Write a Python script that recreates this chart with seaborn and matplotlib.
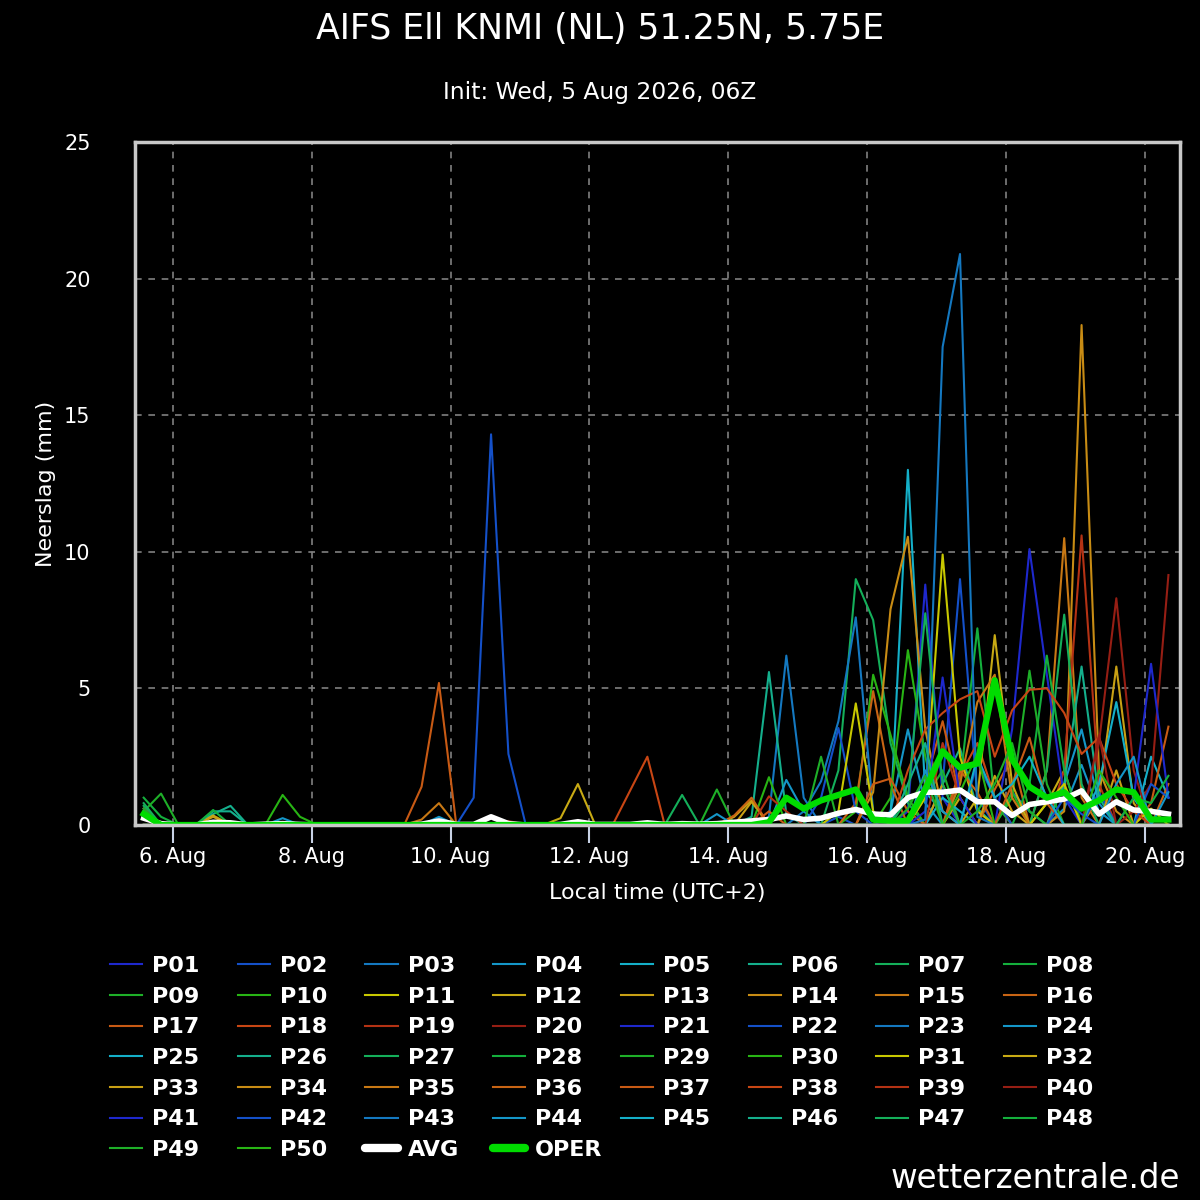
import matplotlib
matplotlib.use("Agg")
import matplotlib.pyplot as plt
import matplotlib.dates as mdates
from matplotlib.lines import Line2D
from matplotlib.ticker import FuncFormatter
import numpy as np
import pandas as pd
import seaborn as sns

# 6-hourly steps, first value valid 5 Aug 14:00 local, 60 steps
start = "2026-08-05 14:00"
n_steps = 60

# ensemble members: {step index: mm}, zero at all other steps
p01 = {0: 0.6, 44: 0.5, 45: 8.8, 46: 1.0}
p02 = {0: 0.5, 40: 0.3, 46: 1.5, 47: 9.0, 48: 1.0}
p03 = {0: 0.4, 36: 0.3, 37: 6.2, 38: 1.0, 50: 1.2, 51: 0.5}
p04 = {0: 0.3, 43: 0.5, 44: 3.5, 45: 0.8, 53: 0.6, 54: 2.2, 55: 0.5}
p05 = {43: 0.3, 44: 13.0, 45: 1.2, 46: 0.5, 58: 2.5, 59: 1.0}
p06 = {4: 0.4, 5: 0.7, 35: 0.3, 36: 5.6, 37: 0.4, 46: 1.5, 47: 2.8, 48: 0.6}
p07 = {31: 1.1, 40: 2.0, 41: 9.0, 42: 7.5, 43: 3.0, 44: 0.8}
p08 = {0: 1.0, 1: 0.3, 47: 1.5, 48: 7.2, 49: 0.8}
p09 = {0: 0.5, 1: 1.15, 33: 1.3, 45: 1.0, 46: 2.0, 50: 1.2}
p10 = {8: 1.1, 9: 0.3, 41: 0.5, 42: 5.5, 43: 3.3, 44: 1.0}
p11 = {45: 1.0, 46: 9.9, 47: 2.5, 48: 0.5}
p12 = {4: 0.35, 24: 0.25, 25: 1.5, 47: 1.0, 52: 0.8, 53: 2.0}
p13 = {35: 0.85, 46: 1.5, 55: 1.0, 56: 5.8, 57: 0.8}
p14 = {53: 0.5, 54: 18.3, 55: 2.0, 56: 0.5}
p15 = {52: 2.0, 53: 10.5, 54: 1.0}
p16 = {41: 0.8, 42: 4.9, 43: 1.5, 49: 1.3, 50: 2.5}
p17 = {16: 1.4, 17: 5.2, 45: 1.5, 46: 3.8, 47: 1.0, 58: 0.8, 59: 3.6}
p18 = {28: 1.25, 29: 2.5, 47: 1.8, 48: 3.0, 49: 1.0}
p19 = {53: 2.0, 54: 10.6, 55: 1.5}
p20 = {21: 0.15, 55: 3.0, 56: 8.3, 57: 2.0}
p21 = {50: 3.5, 51: 10.1, 52: 5.5, 53: 1.0}
p22 = {0: 0.3, 39: 1.0, 40: 3.55, 41: 0.5, 48: 2.3, 49: 1.0, 55: 1.2}
p23 = {38: 0.5, 39: 1.6, 40: 3.8, 41: 7.6, 42: 0.5}
p24 = {37: 1.65, 38: 0.5, 53: 1.5, 54: 3.5, 55: 0.8}
p25 = {0: 0.4, 46: 1.0, 47: 0.5, 55: 1.5, 56: 4.5, 57: 1.0}
p26 = {53: 1.5, 54: 5.8, 55: 1.0}
p27 = {0: 0.7, 52: 2.0, 53: 7.7, 54: 1.5}
p28 = {51: 1.5, 52: 6.2, 53: 2.0}
p29 = {39: 2.5, 50: 1.0, 51: 5.65, 52: 1.5}
p30 = {36: 1.75, 43: 1.0, 44: 6.4, 45: 2.5}
p31 = {40: 0.5, 41: 4.45, 42: 0.5, 52: 0.8, 53: 1.5, 58: 0.6}
p32 = {48: 1.0, 49: 6.95, 50: 1.5}
p33 = {0: 0.5, 4: 0.3, 34: 0.3, 35: 0.9, 49: 1.8, 50: 0.5, 56: 2.0}
p34 = {42: 1.2, 43: 7.9, 44: 10.55, 45: 3.5, 46: 0.5}
p35 = {16: 0.2, 17: 0.8, 47: 1.5, 48: 4.5, 49: 5.5, 50: 1.0}
p36 = {34: 0.35, 35: 1.0, 47: 2.0, 48: 1.2, 59: 1.5}
p37 = {36: 0.5, 42: 1.5, 43: 1.7, 44: 0.5, 50: 1.5, 51: 3.2, 52: 0.8}
p38 = {44: 2.0, 45: 3.5, 46: 4.1, 47: 4.6, 48: 4.9, 49: 2.5, 50: 4.2,
       51: 4.95, 52: 5.0, 53: 4.1, 54: 2.6, 55: 3.2, 56: 1.5, 57: 0.5}
p39 = {0: 0.6, 36: 1.05, 37: 0.5, 46: 3.0, 47: 1.0}
p40 = {55: 3.3, 57: 0.5, 58: 1.5, 59: 9.15}
p41 = {45: 0.5, 46: 5.4, 47: 1.0, 57: 1.0, 58: 5.9, 59: 1.0}
p42 = {19: 1.0, 20: 14.3, 21: 2.6, 53: 1.0, 54: 0.4, 58: 1.5, 59: 1.0}
p43 = {45: 0.2, 46: 17.5, 47: 20.9, 48: 0.3}
p44 = {8: 0.25, 17: 0.3, 33: 0.4, 45: 2.0, 46: 0.5, 56: 1.5, 57: 2.5, 59: 1.2}
p45 = {48: 2.5, 49: 1.0, 50: 1.5, 51: 2.5, 52: 1.0}
p46 = {0: 0.5, 4: 0.5, 5: 0.5, 44: 1.5, 45: 3.0}
p47 = {0: 0.8, 44: 1.0, 45: 7.75, 46: 1.5}
p48 = {4: 0.55, 57: 1.0, 58: 0.8, 59: 1.8}
p49 = {0: 0.6, 44: 0.6, 45: 1.8, 48: 0.5, 49: 1.5, 50: 3.0, 51: 0.5}
p50 = {0: 0.3, 47: 1.2, 48: 2.6, 55: 2.0, 56: 1.0}

avg = [0.25, 0.05, 0, 0, 0.1, 0.08, 0, 0.03, 0.05, 0.02,
       0, 0, 0, 0, 0, 0, 0.03, 0.15, 0.02, 0.02,
       0.3, 0.05, 0, 0, 0.02, 0.12, 0.02, 0.02, 0.02, 0.08,
       0.02, 0.05, 0.03, 0.05, 0.1, 0.15, 0.2, 0.33, 0.2, 0.25,
       0.43, 0.57, 0.4, 0.37, 1.0, 1.2, 1.2, 1.28, 0.85, 0.85,
       0.35, 0.75, 0.85, 0.95, 1.25, 0.4, 0.85, 0.55, 0.5, 0.4]
oper = [0.4, 0, 0, 0, 0, 0, 0, 0, 0, 0,
        0, 0, 0, 0, 0, 0, 0, 0, 0, 0,
        0, 0, 0, 0, 0, 0, 0, 0, 0, 0,
        0, 0, 0, 0, 0, 0, 0.1, 1.0, 0.6, 0.9,
        1.1, 1.3, 0.2, 0.15, 0.15, 1.3, 2.7, 2.1, 2.25, 5.3,
        2.4, 1.4, 1.0, 1.2, 0.6, 0.9, 1.3, 1.2, 0.2, 0.2]

colors20 = ["#1e28cd", "#1450c8", "#1478c0", "#1496c8", "#14afc8",
            "#14af8c", "#14af5a", "#14af3c", "#1eaf28", "#28b414",
            "#c8c800", "#c8aa14", "#c8a014", "#c88c14", "#c87814",
            "#c86414", "#c85a14", "#c84614", "#b43214", "#961e14"]

members = [p01, p02, p03, p04, p05, p06, p07, p08, p09, p10,
           p11, p12, p13, p14, p15, p16, p17, p18, p19, p20,
           p21, p22, p23, p24, p25, p26, p27, p28, p29, p30,
           p31, p32, p33, p34, p35, p36, p37, p38, p39, p40,
           p41, p42, p43, p44, p45, p46, p47, p48, p49, p50]
names = [f"P{k:02d}" for k in range(1, 51)]

times = pd.date_range(start, periods=n_steps, freq="6h")
rows = []
for name, m in zip(names, members):
    for i, t in enumerate(times):
        rows.append((name, t, m.get(i, 0.0)))
df = pd.DataFrame(rows, columns=["member", "time", "mm"])
palette = {name: colors20[k % 20] for k, name in enumerate(names)}

plt.rcParams["font.family"] = ["DejaVu Sans"]

fig = plt.figure(figsize=(12, 12), dpi=100, facecolor="black")
ax = fig.add_axes([135 / 1200, 1 - 825 / 1200, 1045 / 1200, 683 / 1200])
ax.set_facecolor("black")

sns.lineplot(data=df, x="time", y="mm", hue="member", palette=palette,
             linewidth=1.5, legend=False, ax=ax)
sns.lineplot(x=times, y=avg, color="white", linewidth=4, ax=ax)
sns.lineplot(x=times, y=oper, color="#00dc00", linewidth=4.5, ax=ax)

ax.set_ylim(0, 25)
ax.set_xlim(pd.Timestamp("2026-08-05 11:00"), pd.Timestamp("2026-08-20 12:00"))
ax.set_yticks([0, 5, 10, 15, 20, 25])
ax.xaxis.set_major_locator(mdates.DayLocator(bymonthday=[6, 8, 10, 12, 14, 16, 18, 20]))
ax.xaxis.set_major_formatter(FuncFormatter(
    lambda v, p: f"{mdates.num2date(v).day}. {mdates.num2date(v):%b}"))
ax.grid(True, color="#808080", linestyle=(0, (4, 4)), linewidth=1.2)
for s in ax.spines.values():
    s.set_color("#c8c8c8")
    s.set_linewidth(2.5)
ax.tick_params(axis="y", length=0, pad=32, labelcolor="white", labelsize=15)
ax.tick_params(axis="x", length=13, width=1.5, color="#c8d2e6", pad=3,
               labelcolor="white", labelsize=15)

ax.set_ylabel("Neerslag (mm)", color="white", fontsize=16, va="center")
ax.set_xlabel("Local time (UTC+2)", color="white", fontsize=16, va="center")
ax.yaxis.set_label_coords(-0.085, 0.5)
ax.xaxis.set_label_coords(0.5, -0.1)

fig.text(0.5, 1 - 29 / 1200, "AIFS Ell KNMI (NL) 51.25N, 5.75E", color="white",
         fontsize=25, ha="center", va="center")
fig.text(0.5, 1 - 92 / 1200, "Init: Wed, 5 Aug 2026, 06Z", color="white",
         fontsize=16.8, ha="center", va="center")
fig.text(1180 / 1200, 1 - 1178 / 1200, "wetterzentrale.de", color="white",
         fontsize=23.5, ha="right", va="center")

# legend, row-major in 8 columns
handles = [Line2D([], [], color=palette[n], linewidth=1.5) for n in names]
handles.append(Line2D([], [], color="white", linewidth=6, solid_capstyle="round"))
handles.append(Line2D([], [], color="#00dc00", linewidth=6, solid_capstyle="round"))
labels = names + ["AVG", "OPER"]
for c in range(8):
    idx = list(range(c, len(labels), 8))
    leg = fig.legend([handles[i] for i in idx], [labels[i] for i in idx],
                     loc="upper left",
                     bbox_to_anchor=((110 + c * 127.7) / 1200, 1 - 956 / 1200),
                     frameon=False, handlelength=1.45, handletextpad=0.45,
                     labelspacing=0.48, borderaxespad=0, borderpad=0,
                     prop={"weight": "bold", "size": 16})
    for t in leg.get_texts():
        t.set_color("white")

fig.savefig("out.png", dpi=100, facecolor="black")
